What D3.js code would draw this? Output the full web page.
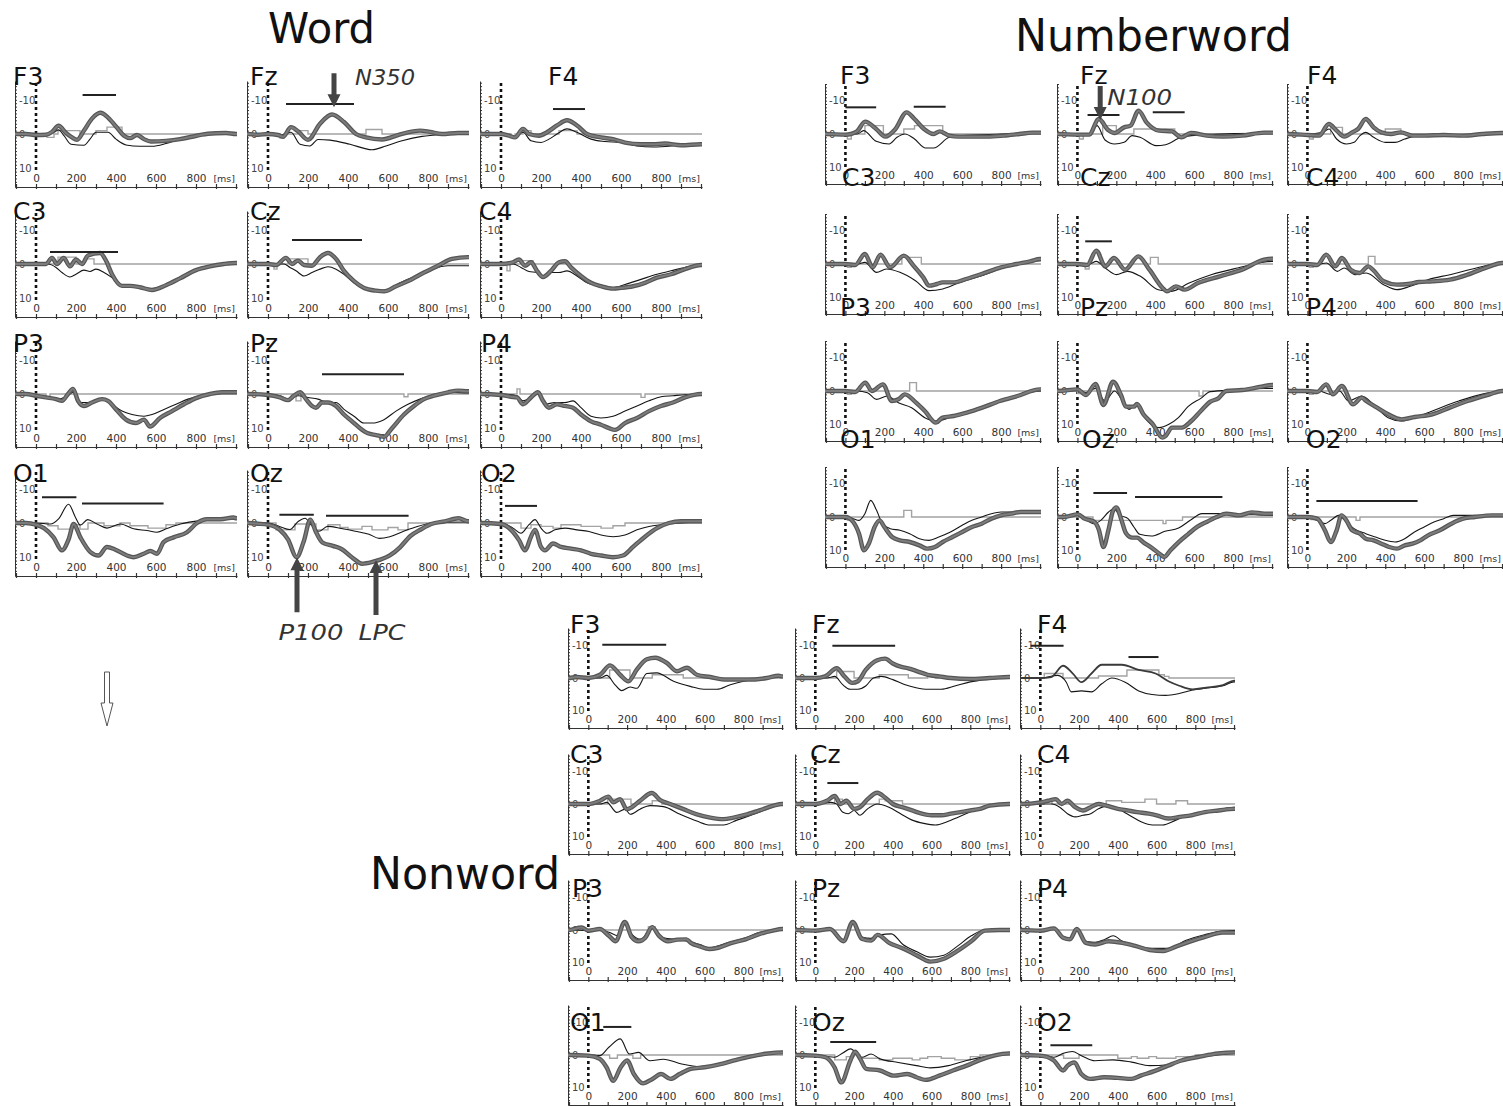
<!DOCTYPE html>
<html><head><meta charset="utf-8">
<script src="https://cdn.jsdelivr.net/npm/d3@7"></script>
<style>body{margin:0;background:#fff}svg{display:block}</style>
</head><body>
<svg id="c" width="1503" height="1106"></svg>
<script>
// ---------------- DATA ----------------
const electrodes = ["F3","Fz","F4","C3","Cz","C4","P3","Pz","P4","O1","Oz","O2"];
const groupNames = ["Word","Numberword","Nonword"];
const xTicks = [0,200,400,600,800];
const yTicks = [-10,0,10];
// series: flat [ms, µV, ms, µV, ...]  (positive = down)
const wordThick = [
 [-100,0,-50,0,0,0.3,50,0.2,80,-0.6,113,-2.4,150,-0.3,180,1,205,1.7,240,-1,280,-4.5,322,-6.2,360,-4.8,400,-2.2,440,0.5,470,1.2,505,0.3,540,1.5,575,2.2,650,2,720,1.5,780,0.8,830,0.2,900,-0.2,950,-0.3,1000,0],
 [-100,0,-50,0.2,0,0,50,0.3,75,0.8,115,-2,150,-0.8,200,1.7,260,-3,320,-5.7,380,-3.5,440,0,490,1,570,1.6,650,0.3,700,-0.5,760,-1,810,-0.6,870,0,950,-0.3,1000,-0.3],
 [-100,0,0,0,40,0.5,70,1,110,-1.5,140,0,190,0.5,230,-0.5,280,-2.5,330,-4,380,-2.5,430,0,500,1,560,1.5,620,2.5,700,3,760,3,820,2.8,900,3.3,1000,3],
 [-100,0,0,0,50,0,80,-1.8,105,0,138,-1.8,170,0.7,200,-1.3,230,0,260,-2.5,320,-3.2,350,-1,380,3,430,6.4,470,6.4,520,6.8,580,7.6,650,6.2,720,4.2,800,1.8,870,0.7,940,0,1000,-0.3],
 [-100,0,0,0,40,0.3,90,-1.8,120,0,150,-1,180,0.3,220,0.5,260,-2,300,-3.2,340,-1.5,380,2,430,5,480,7,540,7.8,580,8,640,6.5,700,5,780,2.5,850,0.5,920,-1.5,1000,-2],
 [-100,0,0,0,60,-0.5,90,-1.3,120,0.5,150,-0.5,180,2,210,3.8,250,2,290,-0.5,320,-0.8,350,1,400,3.5,450,5.5,500,6.5,560,7.2,600,7,660,6.5,720,5.5,780,4,850,3,920,1.5,1000,0.3],
 [-100,0,-50,0,0,0.5,50,1,100,1.5,130,2,160,0,185,-1.5,210,2,240,3.5,280,2.5,330,1.5,360,2,400,4.5,450,7.5,500,8.5,540,7.5,570,9.5,620,7,680,5,740,3,800,1.2,870,0,930,-0.5,1000,-0.5],
 [-100,0,0,0.3,60,1,100,1.8,130,0.5,160,-0.5,190,1.5,220,3.5,240,4,270,2.5,300,2.5,340,3.5,380,6,420,8,460,10,500,11.5,540,12,580,12.5,620,10,680,6,730,3.5,780,1.5,830,0.5,900,-0.5,950,-1,1000,-0.8],
 [-100,0,0,0.3,50,0.8,80,1,110,3,150,1,185,-0.5,210,2,240,4,280,3,320,3.5,360,4,400,6,450,8,500,9,540,10,570,10.5,620,8.5,680,7,740,5,800,3.5,860,2.5,920,1,1000,0],
 [-100,0,-50,0,0,0.5,40,1.5,88,4.2,130,8,163,4.8,188,0.3,222,4.2,272,8.5,313,9.5,355,7,397,7.8,455,9.5,488,10,538,9,572,8.2,605,9,638,5.6,688,4.2,755,2.7,805,0,855,-1.1,922,-1.1,988,-1.6,1000,-1.4],
 [-100,0,-50,0.2,0,0.5,57,1.9,100,4.8,143,10,178,5.5,212,-1,238,2.4,272,5.7,324,6.7,367,7.6,419,10,471,11.9,522,11.4,557,10.8,609,9.5,660,7.1,712,3.8,764,1.9,816,0.3,884,-0.5,953,-1.4,1000,-0.5],
 [-100,0,0,0.3,50,2,90,5,120,8,150,4,170,2,200,7,220,8,260,6,300,7,350,7.5,400,8,450,9,500,9.5,560,10,610,9.5,660,7,720,4,780,1.5,840,0,900,-0.5,1000,-0.5]
];
const wordThin = [
 [-100,0,0,0,60,0.2,90,-0.5,113,-1.2,140,0.5,175,3,240,3.3,270,1.5,300,-0.5,360,-0.5,400,1.5,450,3.2,520,3.6,580,3.6,650,2.8,720,1.5,800,0.5,900,0,1000,0],
 [-100,0,0,0,70,0.2,115,-0.5,160,3,210,3.5,250,1.6,310,1.8,410,3,520,4.6,590,3.5,670,2,770,0.7,870,0.2,1000,0],
 [-100,0,0,0,70,0.8,110,-0.5,150,2,200,2.5,240,1.5,280,0,330,-1.5,380,-0.5,450,1.5,520,2.2,600,2.5,680,3.5,760,3.8,850,3.5,920,3,1000,3],
 [-100,0,0,0,60,0,100,1,130,2.5,170,3.8,200,3,240,1.8,270,2.2,300,1.5,340,2.5,380,4,430,6.4,500,6.5,580,7.2,650,6,720,3.8,800,1.5,880,0.3,1000,-0.3],
 [-100,0,0,0,80,0,110,1,140,2,180,3.5,220,2.5,260,1.5,300,0.8,340,1.5,380,3,430,5.5,480,7.2,540,7.8,600,7.5,660,5.5,740,3.5,820,1.5,900,0.5,1000,0.5],
 [-100,0,0,0,60,0,100,1,140,2.2,180,2.5,210,3.5,250,2.5,290,2.5,330,2,380,3.5,430,5.5,500,6.5,560,7,620,6,700,4.5,780,3,850,2,920,1,1000,0.3],
 [-100,0,0,0.5,100,1.5,160,0.5,185,-0.5,220,2.5,270,2.5,330,1.5,380,3,430,5,480,6,540,6.5,580,6,640,4.5,700,3,760,1.5,820,0.5,900,0,1000,-0.5],
 [-100,0,0,0,60,0.5,100,1.5,150,0.5,200,1,250,1.5,300,2.5,340,2.5,380,4.5,430,6.5,480,8.5,520,8.5,580,7.5,640,5,700,3,760,1.5,820,0.3,900,-0.5,1000,-0.3],
 [-100,0,0,0,80,0.5,110,2,150,1,185,0,220,3,270,2.5,320,2.5,360,2,400,4,450,6.5,500,7,560,6.5,620,5,680,3.5,740,2,800,0.8,860,0.5,920,0.2,1000,0],
 [-100,0,0,0,72,0.3,113,-1.2,163,-5.5,197,-1.7,222,0.6,258,-1,305,0.3,355,1.5,422,0.3,488,1.7,555,2.2,605,2.7,655,1.6,722,0.3,822,-0.7,900,-1,988,-1.6,1000,-1.6],
 [-100,0,0,0,57,1,109,1.9,152,-0.5,186,-1.4,212,0.3,255,2.4,298,1,367,1.6,436,2.4,505,3.3,557,4.5,609,4,678,2.4,747,1,850,-0.2,1000,-0.3],
 [-100,0,0,0,60,1.5,100,3,140,0.5,170,-1,200,1.5,230,3,270,2,320,1.5,380,2,440,2.5,500,3.5,560,4,620,3.5,680,2,740,1,800,0.5,900,0,1000,-0.3]
];
const wordGray = [
 [-100,0,55,1,90,0,110,-1,220,0,300,-1,355,-2,430,0],
 [-100,0,60,1.2,80,0,150,-1,200,0,490,-1.3,570,0],
 [-100,0,50,0.8,70,0,110,-1,150,0,290,-1,380,0],
 [-100,0,110,-2,200,0,240,-1.5,290,0],
 [-100,0,30,1.5,45,0,100,-1.5,200,0],
 [-100,0,30,2,45,0,100,-1,160,0],
 [-100,0,50,1,70,0],
 [-100,0,140,2,165,0,680,0.8,700,0],
 [-100,0,80,-1.5,95,0,700,1,720,0],
 [-100,0,60,0.8,110,1.8,180,0.5,220,1.8,260,0,340,0.8,420,0,470,0.8,560,1.5,650,0.5,700,0],
 [-100,0,40,2,135,0.3,240,2,300,0.5,360,1.3,400,1.8,470,1,520,2,600,1.3,650,2,700,0],
 [-100,0,100,1.5,150,0.5,200,1,260,1.5,300,0.5,400,1,500,1.5,560,0.8,620,0]
];
const numThick = [
 [-100,0,0,0.2,28,0,60,-0.8,101,-3.7,158,-1.5,205,0.8,257,-1.5,314,-6.5,355,-4.5,404,-1.5,453,0,485,-0.8,534,0.5,583,0.8,730,0.8,812,0.5,894,0,960,-0.4,1000,-0.4],
 [-100,0,0,0.2,60,0.2,110,-4.5,158,-1.2,191,-0.3,240,-2,273,-2.5,314,-7,355,-3.5,420,-1,485,-0.8,534,1,583,-0.3,665,0.5,747,0.8,845,0.5,960,-0.4,1000,-0.4],
 [-100,0,0,0.3,60,0.5,110,-3,150,-1,190,0.8,230,-0.5,260,-1.5,300,-4.5,340,-2,380,-0.5,430,0,480,-0.5,540,0.5,600,0.5,700,0.3,800,0.5,900,0,1000,-0.3],
 [-100,0,0,0,50,0.3,100,-3,140,1,180,-2.8,230,1,300,-2.5,350,0.5,400,4,430,6.5,470,6,500,5.5,560,5.5,620,4.5,700,3,800,1,880,0,950,-0.8,1000,-1.5],
 [-100,0,0,0,50,0.3,97,-4,143,0.7,188,-1.8,245,1.7,313,-2.3,370,1.7,438,7.2,460,8.2,506,6.7,551,7.7,619,5.7,732,3.7,846,1.7,959,-1.3,1000,-1.6],
 [-100,0,0,0,50,0.3,97,-2.8,143,0.7,177,-1.8,222,1.7,268,2.7,313,0.7,336,1.7,392,5.2,460,6.2,517,6,574,5.4,642,5.2,732,4.7,823,3.2,937,0.7,1000,-0.3],
 [-100,0,0,0,50,0.3,102,-2.5,136,0,193,-2,238,3,272,2.5,306,1,363,3.5,408,6,465,9.5,499,8,556,7.5,624,6.5,703,5,794,3,884,1.5,1000,-0.5],
 [-100,0,0,-0.5,44,1.2,93,-2.1,134,4.2,183,-2.8,224,1.2,249,4.7,290,4.7,306,3.9,339,7,388,10,437,14,453,13.5,486,11,535,11,585,9,634,6,683,3.2,724,2.2,765,0,847,-0.3,945,-1.3,1000,-1.8],
 [-100,0,0,0,50,0.3,97,-2,131,1,177,-1.5,234,4,279,2,302,3,358,5,415,7,483,8.5,551,7.8,642,7,732,5,823,3,937,1,1000,0],
 [-100,0,0,0,40,1.5,70,5,95,10,120,8,150,3,175,1,200,3,240,6,280,7,330,7.5,380,8.5,420,9.5,460,9,500,7.5,550,6,600,4.5,650,3,700,2,750,0.5,800,-0.5,850,-1,900,-1.5,1000,-1.5],
 [-100,0,-70,0,3,-0.8,36,0.5,85,1.4,110,3.8,134,9,159,4,183,-1.9,200,-2.9,224,0.5,249,4.8,282,6.2,306,6.2,339,7.6,388,9.5,421,11,446,12,478,10,519,7.6,568,5.2,617,2.9,667,1.4,716,0,765,-1,831,-0.5,896,-1.4,962,-1,1000,-1],
 [-100,0,0,0,50,0.5,90,4,120,7.5,150,4,175,-0.5,200,1,230,4,270,5,300,6.5,340,7,380,8,420,9,460,9.5,500,8.5,540,8,580,7,620,5.5,680,4,740,2,800,0.5,860,0,950,-0.5,1000,-0.5]
];
const numThin = [
 [-100,0,0,0,60,0,93,-1,158,2.2,224,3,265,1,306,0,355,1.5,412,4.2,453,4.2,534,1,600,0.5,812,0,960,-0.4,1000,-0.4],
 [-100,0,0,0,60,0,101,-2.5,142,1.8,191,3,240,2.5,281,0.5,322,1,404,3.5,453,3.2,534,1,650,0.2,960,-0.2,1000,-0.2],
 [-100,0,0,0,80,-0.5,110,-1.5,150,1.5,200,3,240,2.5,270,0.5,300,-0.5,340,1,400,2.5,450,2.5,500,1.5,560,0.5,650,0,800,0.3,1000,0],
 [-100,0,0,0,60,0,100,-0.5,160,2.5,210,1.5,280,2.5,360,5,430,8,500,7.5,590,5.5,700,3.5,820,1,900,0,1000,-1],
 [-100,0,0,0,60,0,97,-0.8,143,1.2,200,3.2,256,2.2,324,3.7,415,7.7,483,8.2,574,5.7,687,3.2,823,1.2,1000,-0.8],
 [-100,0,0,0,60,0,97,-0.3,154,2.2,188,1.2,245,3.2,302,2.7,392,6.2,460,7.7,528,6.7,619,4.7,732,3.2,868,1.2,1000,-0.3],
 [-100,0,0,0,60,0,113,0.5,159,2.5,215,1.5,272,3.5,340,5,408,8,465,9,544,7.8,635,6,726,4.2,839,2.2,1000,0],
 [-100,0,0,-0.5,44,0.5,93,-0.8,142,3,191,0,232,3,265,5.5,306,3.7,355,8.7,420,11,470,10,519,8,568,4.7,634,2.2,683,0.2,814,-0.3,962,-0.8,1000,-0.8],
 [-100,0,0,0,60,0,120,1,165,0,211,3,279,1.5,347,4.5,415,8,483,9,551,8,642,6,778,3,1000,0.2],
 [-100,0,0,0,40,0.5,70,1,100,-1,130,-5,160,-2,190,2,230,3.5,280,4,330,5,380,6.5,430,7,480,6,540,4.5,600,2.5,650,1,700,0,750,-1,800,-1.5,900,-1.5,1000,-1.5],
 [-100,0,0,-0.5,40,0.5,80,2,120,1,160,-1.5,185,-2.4,220,-0.5,260,0.5,290,3,320,5.2,380,5.7,450,4.3,520,3.3,580,1,640,-1,720,-1,850,-0.8,1000,-0.5],
 [-100,0,0,0,50,1,90,2,120,1,160,-0.5,200,1.5,240,3.5,300,5,350,6,400,7,450,7.5,500,6.5,550,4.5,600,3,650,1.5,700,0.5,750,-0.5,850,-0.5,1000,-0.5]
];
const numGray = [
 [-100,0,10,1.5,30,0,100,-2.5,195,0,300,-1.5,355,-2.5,500,0],
 [-100,0,10,1.5,30,0,130,-2.5,200,0,290,-1.5,500,0],
 [-100,0,10,1.5,30,0,120,-2,180,0,400,-1.5,480,0],
 [-100,0,10,1,30,0,290,-2,390,0],
 [-100,0,40,1.5,60,0,375,-2,415,0],
 [-100,0,10,1,30,0,313,-2.3,347,0],
 [-100,0,10,1,30,0,330,-2.5,365,0],
 [-100,0,0,0.8,20,0,625,1.5,645,0],
 [-100,0,10,1,30,0],
 [-100,0,10,1,30,0,300,-2,340,0],
 [-100,0,80,1,440,2,455,1,540,0],
 [-100,0,20,0.8,40,0,250,1,270,0]
];
const nonThick = [
 [-100,0,-60,-0.3,0,0,60,-1,112,-3.9,164,-1,207,1,250,-2.6,302,-5.8,345,-6.3,405,-4.7,457,-2.1,509,-3.2,560,-1,629,-0.3,715,0.5,819,0.5,922,0,983,-0.7,1000,-0.5],
 [-100,0,0,0,50,-0.5,110,-3,150,-0.5,190,1.5,220,1,260,-2.5,320,-5.5,360,-6,400,-4.5,440,-3.5,480,-3,530,-2,580,-1,640,-0.5,700,0,800,0.3,900,0,1000,-0.3],
 [-100,0,0,0,56,-0.3,117,-3.8,169,-1.3,212,1.3,264,-1.4,317,-4.1,421,-4.1,508,-2.5,595,-1.4,664,1.1,717,2.4,786,3.5,856,3,943,2.2,1000,0.8],
 [-100,0,0,0,60,-1,103,-2.3,129,-0.5,164,-1.5,198,1.6,224,1,267,-1,328,-3.4,371,-1.2,422,0,491,1.6,560,3.2,629,4.2,698,4.7,750,4.2,819,3.2,888,1.9,957,0.5,1000,0],
 [-100,0,0,0,60,-1,100,-2.5,130,0,160,-1,200,1.5,230,1,270,-1.5,320,-3.5,360,-2,400,0,450,1,500,2,550,3,600,3.5,650,3.5,700,3,750,2.5,800,2,850,1.5,900,0.5,1000,0],
 [-100,0,0,-0.5,40,-1,80,-1.5,110,0,140,-1,180,1,220,2,260,1,300,0,340,0.5,400,1.5,450,2,500,2.5,560,3,600,3.5,660,4.5,720,4,780,3.5,850,2.5,920,2,1000,1.5],
 [-100,0,-35,-0.8,0,0.2,59,-0.3,106,1.8,141,3.5,188,-2.5,224,2.2,259,3.5,294,2.4,329,-0.9,365,1.8,412,3.5,460,3,506,2.9,529,4,576,5.1,624,5.9,671,5.5,741,4,812,2.9,882,1.3,953,0.2,1000,-0.3],
 [-100,0,0,0.2,75,-0.3,146,3.5,193,-2.5,240,2.7,287,3.3,322,1.5,381,4,452,5.7,522,7.8,593,9.8,664,8.9,734,6.5,805,3.5,875,0.2,950,0,1000,0],
 [-100,0,0,0.2,70,-0.5,118,2.4,153,2.9,188,-0.3,235,4,282,4.5,353,3.5,424,4,494,5,565,6.2,635,6.5,706,5,776,3.5,847,2.2,941,0.8,1000,0.8],
 [-100,0,0,0.2,59,1.2,94,3.8,129,8,165,4,200,1.7,235,5.9,282,8.8,329,7.5,376,5.9,424,7.4,471,5.9,529,4.3,600,3.8,671,3,765,1.5,835,0.5,929,-0.5,1000,-0.8],
 [-100,0,0,0.2,52,0.7,99,3.8,134,8.5,181,1.7,205,-1,230,1,263,4.3,334,4.8,405,6.4,475,5.9,522,6.9,569,7.7,640,6.4,710,4.8,781,3.3,852,1.5,922,0.2,1000,-0.5],
 [-100,0,0,0.2,70,1.7,118,4.8,141,3.3,176,2.3,212,5.9,259,7.4,329,6.9,400,7.1,471,7.4,518,6.4,588,5,659,3.3,729,1.7,824,0.5,918,-0.5,1000,-0.8]
];
const nonThin = [
 [-100,0,0,0,60,0,95,-0.8,138,2.1,172,3.9,216,2.8,250,3.2,302,-1.4,353,-1.6,440,1,526,2.6,595,3.5,664,3.5,733,2.1,802,1,922,0,983,-0.5,1000,-0.5],
 [-100,0,0,0,60,0,100,-0.5,140,2,180,3.5,220,3.5,260,2.5,300,0,340,-0.5,400,0.5,460,2,520,3,580,3.5,650,3.5,720,2.5,800,1.2,880,0.5,1000,0],
 [-100,0,0,0,90,-0.8,134,1.3,160,4.3,212,4,264,4.3,317,1.8,369,0,438,1.3,508,4,577,5.1,647,5.4,717,4.8,786,3.7,873,3,943,2.4,1000,1.2],
 [-100,0,0,0,60,0,95,-0.5,147,2.6,190,1.6,216,3.2,267,1.6,319,0.5,388,0.8,474,3.2,560,5.3,629,6.5,698,6.5,767,5,853,3.2,940,1.2,1000,0.2],
 [-100,0,0,0,80,-0.5,110,0,140,2.5,170,3,200,2,230,3.5,270,1.5,320,0,380,1,440,3,500,5,560,6,620,6.5,680,5.5,740,4,800,2.5,880,1,1000,0],
 [-100,0,0,0,60,0,100,1,140,3,180,4,220,3.5,260,3,300,1.5,350,0.5,400,1.5,460,3.5,520,5.5,580,6.5,630,6.5,700,5,760,3.5,830,2.5,900,2,1000,1],
 [-100,0,0,0.2,59,0,106,0.7,153,1.8,188,-2,224,1.3,271,2.9,329,-0.9,388,2.4,460,3,506,3.4,576,4.5,624,5.5,718,4,812,2.4,882,0.8,953,0,1000,-0.3],
 [-100,0,0,0.2,75,-0.3,146,3,193,-2,240,2.2,287,2.6,334,1.5,393,1.2,452,4.5,522,6.7,593,8.4,664,7.8,734,5,805,1.8,875,0,1000,0],
 [-100,0,0,0.2,70,-0.5,118,2,153,2.5,188,0,235,3.5,282,3.8,330,3,376,1.8,424,3.5,471,4.5,565,5.7,659,5.7,753,3.2,847,1.5,941,0.3,1000,0.2],
 [-100,0,0,0,59,0.2,106,-2.4,165,-5,212,-0.3,259,-0.8,318,1.8,388,1.3,482,2.8,576,3.6,671,3,765,1.5,859,0.5,1000,-0.8],
 [-100,0,0,0,60,0.5,99,0.7,146,-0.8,181,-1.9,240,0.7,287,-0.3,334,1.2,428,2.3,522,3.3,593,4,687,3.3,781,1.7,875,0.5,1000,-0.3],
 [-100,0,0,0,70,0.7,118,-0.5,165,-1.1,212,0.2,282,1.8,376,1.5,471,2.2,565,3.3,659,3,753,1.5,847,0.5,1000,-0.5]
];
const nonGray = [
 [-100,0,110,-2.5,215,0,330,-1,490,0],
 [-100,0,110,-2,200,0,330,-1,480,0,580,-1,620,0],
 [-100,0,20,-1.4,117,0,300,-0.6,447,-2.5,612,-1,640,-0.5,664,0],
 [-100,0,100,-1.5,220,0,330,-1,380,0],
 [-100,0,100,-1.5,140,0,330,-1.5,360,-1,450,0],
 [-100,0,20,-1,60,0,340,-1,420,-0.5,540,-1.5,600,0,700,-1,760,0],
 [-100,0,310,-1,345,0],
 [-100,0],
 [-100,0],
 [-100,0,110,1,150,0,230,1,270,0],
 [-100,0,100,1.5,160,0.5,200,0,230,1,330,1.5,400,1,500,1.5,540,1,580,0.5,650,1,720,1.5,800,0.5,850,0],
 [-100,0,120,1,200,0,400,1,470,0.5,500,1,560,0.5,600,1,700,0.5,800,0]
];
// significance bars: [electrode index, start ms, end ms, µV level]
const wordBars = [[0,233,400,-11.4],[1,90,430,-8.8],[2,260,420,-7.3],[3,70,410,-3.5],[4,120,470,-7],[7,270,680,-5.8],[9,30,202,-7.5],[9,230,638,-5.7],[10,57,229,-2.4],[10,290,703,-2.1],[11,20,180,-5]];
const numBars = [[0,0,158,-8],[0,351,515,-8.2],[1,52,216,-5.7],[1,387,551,-6.5],[4,40,177,-6.8],[10,82,255,-7.2],[10,296,745,-6],[11,46,566,-4.8]];
const nonBars = [[0,72,402,-10.3],[1,88,412,-10],[2,-50,120,-10],[2,455,610,-6.5],[4,62,222,-6.5],[9,77,222,-8.7],[10,77,314,-4],[11,52,268,-3]];
// component arrows: [group, electrode, ms, µV, direction]
const arrowMarks = [[0,1,330,-7.8,"down"],[0,10,145,10,"up"],[0,10,540,10.8,"up"],[1,1,117,-4.2,"down"]];
const arrowTexts = ["N350","P100","LPC","N100"];

// ---------------- LAYOUT ----------------
const layouts = [
 {axisX:[15,247,480], zeroY:[134,264,394,523], width:222, half:53, vmax:15.5,
  labelX:[[13,250,548],[13,250,479],[13,250,481],[13,250,481]], labelY:[85,220,352,482],
  title:{x:268,y:43,len:107,size:42}},
 {axisX:[825,1057,1287], zeroY:[134,264,391,517], width:216, half:50, vmax:15,
  labelX:[[840,1080,1307],[842,1080,1306],[840,1080,1306],[840,1082,1306]], labelY:[84,186,316,448],
  title:{x:1015,y:51,len:277,size:44}},
 {axisX:[568,795,1020], zeroY:[678,804,930,1055], width:215, half:50, vmax:15.5,
  labelX:[[570,812,1037],[570,810,1037],[572,812,1037],[570,812,1037]], labelY:[633,763,897,1031],
  title:{x:370,y:889,len:190,size:44}}
];
const thickS=[wordThick,numThick,nonThick], thinS=[wordThin,numThin,nonThin], grayS=[wordGray,numGray,nonGray], barS=[wordBars,numBars,nonBars];

const svg = d3.select("#c");
const FONT = "'DejaVu Sans', 'Liberation Sans', sans-serif";
const toPts = a => { const p=[]; for(let k=0;k<a.length;k+=2) p.push([a[k],a[k+1]]);
  if(p[0][0]>-105) p.unshift([-105,p[0][1]]); if(p[p.length-1][0]<1005) p.push([1005,p[p.length-1][1]]); return p; };
const scales = [];

layouts.forEach((L,gi)=>{
  scales[gi]=[];
  const t=L.title;
  svg.append("text").attr("x",t.x).attr("y",t.y).attr("font-family",FONT).attr("font-size",t.size)
    .attr("fill","#111").attr("textLength",t.len).attr("lengthAdjust","spacingAndGlyphs").text(groupNames[gi]);
  electrodes.forEach((el,i)=>{
    const r=Math.floor(i/3), c=i%3;
    const ax=L.axisX[c], zy=L.zeroY[r], by=zy+L.half;
    const x=d3.scaleLinear().domain([-105,1005]).range([ax,ax+L.width]);
    const y=d3.scaleLinear().domain([-L.vmax,L.vmax]).range([zy-L.half,zy+L.half]);
    scales[gi][i]={x,y};
    const g=svg.append("g");
    // rulers
    const ly=g.append("g").attr("transform",`translate(${ax},0)`)
      .call(d3.axisRight(y).tickValues(d3.range(-15,16,1)).tickSize(2).tickSizeOuter(0).tickFormat(""));
    ly.selectAll("path,line").attr("stroke","#333");
    const lx=g.append("g").attr("transform",`translate(0,${by})`)
      .call(d3.axisBottom(x).tickValues(d3.range(-100,1001,100)).tickSize(3).tickSizeOuter(0).tickFormat(""));
    lx.selectAll("path,line").attr("stroke","#333").attr("stroke-width",1.2);
    lx.selectAll(".tick line").attr("y1",-3).attr("y2",2);
    // tick labels
    const xl=g.append("g").attr("transform",`translate(0,${by})`)
      .call(d3.axisBottom(x).tickValues(xTicks).tickSize(0).tickFormat(d=>String(d)));
    xl.select(".domain").remove();
    xl.attr("font-family",FONT).attr("font-size",10.5);
    xl.selectAll("text").attr("y",-5).attr("dy",0).attr("fill","#333");
    g.append("text").attr("x",x(1005)-2).attr("y",by-5).attr("text-anchor","end")
      .attr("font-family",FONT).attr("font-size",9.5).attr("fill","#333").text("[ms]");
    const yl=g.append("g").attr("transform",`translate(${ax},0)`)
      .call(d3.axisRight(y).tickValues(yTicks).tickSize(0).tickPadding(4).tickFormat(d=>String(d)));
    yl.select(".domain").remove();
    yl.attr("font-family",FONT).attr("font-size",10);
    yl.selectAll("text").attr("fill","#444");
    // zero dotted line
    g.append("line").attr("x1",x(0)).attr("x2",x(0)).attr("y1",zy-L.half+2).attr("y2",by-14)
      .attr("stroke","#111").attr("stroke-width",2.6).attr("stroke-dasharray","3,3");
    // curves
    const smooth=d3.line().x(d=>x(d[0])).y(d=>y(d[1])).curve(d3.curveMonotoneX);
    const step=d3.line().x(d=>x(d[0])).y(d=>y(d[1])).curve(d3.curveStepAfter);
    g.append("path").attr("d",step(toPts(grayS[gi][i]))).attr("fill","none").attr("stroke","#a3a3a3").attr("stroke-width",1.4);
    g.append("path").attr("d",smooth(toPts(thinS[gi][i]))).attr("fill","none").attr("stroke","#151515").attr("stroke-width",1.1);
    const thin2 = (gi===2 && el==="F4");
    if(thin2){
      g.append("path").attr("d",smooth(toPts(thickS[gi][i]))).attr("fill","none").attr("stroke","#3a3a3a").attr("stroke-width",1.8);
    } else {
      g.append("path").attr("d",smooth(toPts(thickS[gi][i]))).attr("fill","none").attr("stroke","#565656").attr("stroke-width",4.4).attr("stroke-linejoin","round");
      g.append("path").attr("d",smooth(toPts(thickS[gi][i]))).attr("fill","none").attr("stroke","#7c7c7c").attr("stroke-width",2).attr("stroke-linejoin","round");
    }
    // bars
    barS[gi].filter(b=>b[0]===i).forEach(b=>{
      g.append("line").attr("x1",x(b[1])).attr("x2",x(b[2])).attr("y1",y(b[3])).attr("y2",y(b[3]))
        .attr("stroke","#222").attr("stroke-width",2);
    });
    // electrode label
    svg.append("text").attr("x",L.labelX[r][c]).attr("y",L.labelY[r]).attr("font-family",FONT)
      .attr("font-size",25).attr("fill","#111").text(el);
  });
});

// arrows + component labels
const textOff = [[21,-22,"start"],[14,83,"middle"],[6,80,"middle"],[7,-15,"start"]];
const textLen = [60,65,47,65];
arrowMarks.forEach((a,k)=>{
  const s=scales[a[0]][a[1]];
  const tx=s.x(a[2]), ty=s.y(a[3]);
  const dir = a[4]==="down"?1:-1;
  const len = a[4]==="down"?34:55;
  const p = d3.path();
  p.moveTo(tx,ty); p.lineTo(tx-6.5,ty-dir*13); p.lineTo(tx-2.5,ty-dir*13); p.lineTo(tx-2.5,ty-dir*len);
  p.lineTo(tx+2.5,ty-dir*len); p.lineTo(tx+2.5,ty-dir*13); p.lineTo(tx+6.5,ty-dir*13); p.closePath();
  svg.append("path").attr("d",p.toString()).attr("fill","#444");
  const o=textOff[k];
  svg.append("text").attr("x",tx+o[0]).attr("y",ty+o[1]).attr("text-anchor",o[2]).attr("font-family",FONT)
    .attr("font-style","italic").attr("font-size",22).attr("fill","#333")
    .attr("textLength",textLen[k]).attr("lengthAdjust","spacingAndGlyphs").text(arrowTexts[k]);
});
// hollow arrow (decoration, lower left)
const h=d3.path();
h.moveTo(104.5,672); h.lineTo(109.5,672); h.lineTo(109.5,703); h.lineTo(113,703); h.lineTo(107,726);
h.lineTo(101,703); h.lineTo(104.5,703); h.closePath();
svg.append("path").attr("d",h.toString()).attr("fill","#fff").attr("stroke","#555").attr("stroke-width",1);
</script>
</body></html>
